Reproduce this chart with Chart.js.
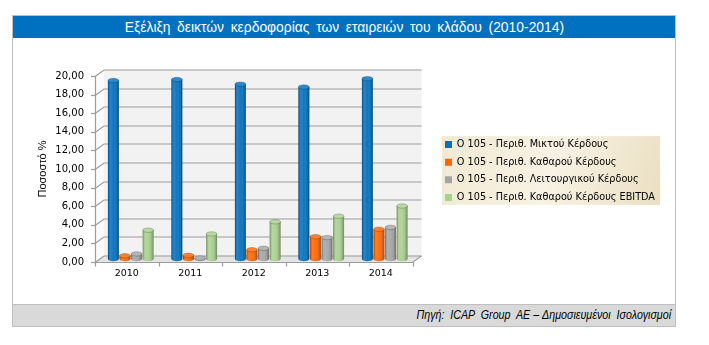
<!DOCTYPE html>
<html>
<head>
<meta charset="utf-8">
<script src="https://cdn.jsdelivr.net/npm/chart.js@4.4.1/dist/chart.umd.min.js"></script>
<style>
html,body{margin:0;padding:0;background:#fff;}
#panel{position:absolute;left:12px;top:15px;width:662px;height:310px;border:1px solid #BFBFBF;background:#fff;}
#title{position:absolute;left:0;top:0;width:662px;height:22px;background:#0070C0;color:#fff;
  font-family:'Liberation Sans Narrow','Liberation Sans',sans-serif;font-size:15px;
  text-align:center;line-height:22px;word-spacing:3px;}
#title span{display:inline-block;transform:scaleX(0.925);transform-origin:center;}
#chartbox{position:absolute;left:0;top:22px;width:662px;height:266px;}
#footer{position:absolute;left:0;top:288px;width:662px;height:22px;background:#D9D9D9;border-top:1px solid #BFBFBF;
  font-family:'Liberation Sans Narrow','Liberation Sans',sans-serif;font-style:italic;font-size:12px;
  text-align:right;line-height:20px;white-space:pre;box-sizing:border-box;padding-right:4px;color:#000;}
#footer span{display:inline-block;transform:scaleX(0.89);transform-origin:right center;}
</style>
</head>
<body>
<div id="panel">
  <div id="title"><span>Εξέλιξη δεικτών κερδοφορίας των εταιρειών του κλάδου (2010-2014)</span></div>
  <div id="chartbox"><canvas id="c" width="662" height="266"></canvas></div>
  <div id="footer"><span>Πηγή:  ICAP  Group  AE – Δημοσιευμένοι  Ισολογισμοί</span></div>
</div>
<script>
// ---- data ----
const categories = ['2010', '2011', '2012', '2013', '2014'];
const seriesLabels = [
  'Ο 105 - Περιθ. Μικτού Κέρδους',
  'Ο 105 - Περιθ. Καθαρού Κέρδους',
  'Ο 105 - Περιθ. Λειτουργικού Κέρδους',
  'Ο 105 - Περιθ. Καθαρού Κέρδους EBITDA'
];
const grossMargin     = [19.2, 19.3, 18.8, 18.5, 19.4];
const netMargin       = [0.35, 0.4, 1.0, 2.4, 3.2];
const operatingMargin = [0.55, 0.1, 1.15, 2.3, 3.4];
const ebitdaMargin    = [3.1, 2.7, 4.0, 4.6, 5.7];
const yTicks = [0, 2, 4, 6, 8, 10, 12, 14, 16, 18, 20];
const yAxisTitle = 'Ποσοστό %';

// ---- styles ----
const colors = ['#0070C0', '#FF6600', '#A5A5A5', '#A9D18E'];
const DX = 9, DY = -6.5;          // 3D depth offset of the back wall
const BAR_SHIFT_X = 4, BAR_SHIFT_Y = -3;
const LEGEND_W = 250.5, LEGEND_SHIFT_X = 24.5, LEGEND_SHIFT_Y = 2;
const narrow = "'Liberation Sans Narrow','Liberation Sans',sans-serif";
const verdana = "'DejaVu Sans',Verdana,sans-serif";

const seriesValues = [grossMargin, netMargin, operatingMargin, ebitdaMargin];

const wall3d = {
  id: 'wall3d',
  afterInit(chart) {
    const lg = chart.legend;
    if (!lg) return;
    const origFit = lg.fit.bind(lg);
    lg.fit = function () { origFit(); if (!this.isHorizontal()) this.width = LEGEND_W; };
    const origDraw = lg.draw.bind(lg);
    lg.draw = function () {
      const c = this.ctx;
      const hb = this.legendHitBoxes;
      if (hb && hb.length) {
        const x0 = hb[0].left + LEGEND_SHIFT_X - 3;
        const y0 = hb[0].top + LEGEND_SHIFT_Y - 3.5;
        const last = hb[hb.length - 1];
        const y1 = last.top + last.height + LEGEND_SHIFT_Y + 2.5;
        const w = 218;
        const g = c.createLinearGradient(x0, y0, x0 + w, y1);
        g.addColorStop(0, '#F1E9D2');
        g.addColorStop(0.5, '#F7F2E4');
        g.addColorStop(1, '#EADFC2');
        c.save();
        c.fillStyle = g;
        c.fillRect(x0, y0, w, y1 - y0);
        c.restore();
      }
      c.save();
      c.translate(LEGEND_SHIFT_X, LEGEND_SHIFT_Y);
      origDraw();
      c.restore();
    };
  },
  beforeDatasetsDraw(chart) {
    const ctx = chart.ctx;
    const {left: L, right: R, top: T, bottom: B} = chart.chartArea;
    const ys = chart.scales.y;
    ctx.save();
    ctx.fillStyle = '#F2F2F2';
    ctx.fillRect(L + DX, T + DY, R - L, B - T);
    ctx.fillStyle = '#FBFBFB';
    ctx.beginPath();
    ctx.moveTo(L, T); ctx.lineTo(L + DX, T + DY); ctx.lineTo(L + DX, B + DY); ctx.lineTo(L, B); ctx.closePath();
    ctx.fill();
    ctx.fillStyle = '#E4E4E4';
    ctx.beginPath();
    ctx.moveTo(L, B); ctx.lineTo(R, B); ctx.lineTo(R + DX, B + DY); ctx.lineTo(L + DX, B + DY); ctx.closePath();
    ctx.fill();
    ctx.strokeStyle = '#9C9C9C';
    ctx.lineWidth = 1.2;
    yTicks.forEach(v => {
      const y = Math.round(ys.getPixelForValue(v)) + 0.5;
      ctx.beginPath();
      ctx.moveTo(L, y); ctx.lineTo(L + DX, y + DY); ctx.lineTo(R + DX, y + DY);
      ctx.stroke();
      ctx.beginPath();
      ctx.moveTo(L - 4, y); ctx.lineTo(L, y);
      ctx.stroke();
    });
    const bx = Math.round(L) + 0.5, by = Math.round(B) + 0.5;
    ctx.beginPath();
    ctx.moveTo(bx, Math.round(T)); ctx.lineTo(bx, by);
    ctx.lineTo(R, by); ctx.lineTo(R + DX, by + DY);
    ctx.stroke();
    const w = (R - L) / categories.length;
    for (let i = 0; i <= categories.length; i++) {
      const x = Math.round(L + i * w) + 0.5;
      ctx.beginPath(); ctx.moveTo(x, by); ctx.lineTo(x, by + 4); ctx.stroke();
    }
    ctx.restore();
    ctx.save();
    ctx.translate(BAR_SHIFT_X, BAR_SHIFT_Y);
  },
  afterDatasetsDraw(chart) {
    const ctx = chart.ctx;
    chart.data.datasets.forEach((ds, di) => {
      const meta = chart.getDatasetMeta(di);
      meta.data.forEach(el => {
        const {x, y, base, width} = el.getProps(['x', 'y', 'base', 'width'], true);
        const col = el.options.backgroundColor;
        const left = x - width / 2;
        const rx = width / 2, ry = 2.2;
        ctx.fillStyle = col;
        ctx.beginPath(); ctx.ellipse(x, base, rx, ry, 0, 0, Math.PI); ctx.fill();
        const g = ctx.createLinearGradient(left, 0, left + width, 0);
        g.addColorStop(0, 'rgba(0,0,0,0.35)');
        g.addColorStop(0.25, 'rgba(255,255,255,0.14)');
        g.addColorStop(0.5, 'rgba(255,255,255,0.05)');
        g.addColorStop(1, 'rgba(0,0,0,0.35)');
        ctx.fillStyle = g;
        ctx.fillRect(left, y, width, base - y);
        ctx.beginPath(); ctx.ellipse(x, base, rx, ry, 0, 0, Math.PI); ctx.fill();
        ctx.fillStyle = col;
        ctx.beginPath(); ctx.ellipse(x, y, rx, ry, 0, 0, 2 * Math.PI); ctx.fill();
        ctx.fillStyle = 'rgba(255,255,255,0.18)';
        ctx.fill();
        ctx.strokeStyle = 'rgba(0,0,0,0.25)';
        ctx.lineWidth = 0.8;
        ctx.stroke();
      });
    });
    ctx.restore();
  }
};

new Chart(document.getElementById('c'), {
  type: 'bar',
  data: {
    labels: categories,
    datasets: seriesValues.map((vals, i) => ({
      label: seriesLabels[i],
      data: vals,
      backgroundColor: colors[i],
      borderWidth: 0,
      categoryPercentage: 0.73,
      barPercentage: 0.94
    }))
  },
  options: {
    responsive: false,
    animation: false,
    devicePixelRatio: 1,
    layout: {padding: {left: 19, right: 12, top: 38, bottom: 12}},
    plugins: {
      tooltip: {enabled: false},
      legend: {
        position: 'right',
        fullSize: false,
        align: 'center',
        labels: {
          boxWidth: 7, boxHeight: 7, padding: 8,
          color: '#000',
          font: {family: verdana, size: 9.7}
        }
      }
    },
    scales: {
      x: {
        grid: {display: false, drawTicks: false},
        border: {display: false},
        ticks: {color: '#000', padding: 6, font: {family: verdana, size: 9.5}},
        afterFit(s) { s.height = 30; }
      },
      y: {
        min: 0, max: 20,
        grid: {display: false, drawTicks: false},
        border: {display: false},
        afterBuildTicks(s) { s.ticks = yTicks.map(v => ({value: v})); },
        ticks: {
          color: '#000', padding: 11,
          font: {family: verdana, size: 10},
          callback: v => Number(v).toFixed(2).replace('.', ',')
        },
        title: {display: true, text: yAxisTitle, color: '#000', font: {family: narrow, size: 11}},
        afterFit(s) { s.width = 63; }
      }
    }
  },
  plugins: [wall3d]
});
</script>
</body>
</html>
